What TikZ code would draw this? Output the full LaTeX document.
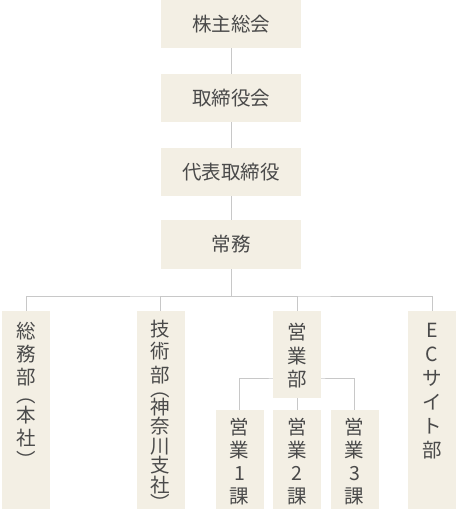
\documentclass[tikz,border=0pt]{standalone}
\usepackage{fontspec}
\setmainfont{Noto Sans CJK JP}
\usetikzlibrary{positioning,backgrounds}
\definecolor{boxfill}{HTML}{F3EFE4}
\definecolor{boxtext}{HTML}{4A4A4A}
\definecolor{linegray}{HTML}{C8C8C8}
\tikzset{org box/.style={rectangle, fill=boxfill, text=boxtext, inner sep=0pt,
    font=\fontsize{19.5}{23}\selectfont}}
\tikzset{yoko box/.style={org box, minimum width=140pt, minimum height=48pt}}
\tikzset{tate box/.style={org box, minimum width=48pt, inner ysep=#1}}
\tikzset{org line/.style={draw=linegray, line width=1pt}}
\newcommand{\tate}[2]{\parbox[c][#1][t]{24pt}{\centering #2}}

\begin{document}
\begin{tikzpicture}
  [x=1pt, y=-1pt]
  \useasboundingbox (0,0) rectangle (460,510);

  \node [yoko box] (soukai)      at (231, 24) {株主総会};
  \node [yoko box] (torishimari) at (231, 98) {取締役会};
  \node [yoko box] (daihyou)     at (231,172) {代表取締役};
  \node [yoko box] (joumu)       at (231,244.5) {常務};
  \coordinate      (bus)         at (231,296);

  % vertical text columns
  \node [tate box=11pt] (soumu)   at ( 26,410) {\tate{176pt}{総\\務\\部\\[-4.6pt]︵\\[-3.4pt]本\\社\\[-1.2pt]︶}};
  \node [tate box=9pt] (gijutsu) at (160.5,410) {\tate{180pt}{技\\[-0.5pt]術\\[0.5pt]部\\[-8.6pt]︵\\[-5.4pt]神\\[-3.5pt]奈\\[-3.5pt]川\\[-3.5pt]支\\[-3.5pt]社\\[-4.5pt]︶}};
  \node [tate box=12.5pt] (eigyou) at (297,354.5) {\tate{62pt}{営\\[1pt]業\\部}};
  \node [tate box=12pt] (ec)      at (432,410) {\tate{174pt}{E\\[1pt]C\\[1pt]サ\\[1pt]イ\\[1pt]ト\\[1pt]部}};
  \coordinate           (subbus)  at (297,378);

  \node [tate box=8pt] (ka1) at (239.5,459.5) {\tate{83pt}{営\\業\\1\\課}};
  \node [tate box=8pt] (ka2) at (297,459.5)   {\tate{83pt}{営\\業\\2\\課}};
  \node [tate box=8pt] (ka3) at (354.5,459.5) {\tate{83pt}{営\\業\\3\\課}};

  \begin{scope}[on background layer]
    \draw [org line] (soukai)      -- (torishimari);
    \draw [org line] (torishimari) -- (daihyou);
    \draw [org line] (daihyou)     -- (joumu);
    \draw [org line] (joumu)       -- (bus);
    \draw [org line] (soumu)   |- (bus) -| (ec);
    \draw [org line] (gijutsu) |- (bus);
    \draw [org line] (eigyou)  |- (bus);
    \draw [org line] (ka1) |- (subbus) -| (ka3);
    \draw [org line] (eigyou) -- (ka2);
  \end{scope}
\end{tikzpicture}
\end{document}
